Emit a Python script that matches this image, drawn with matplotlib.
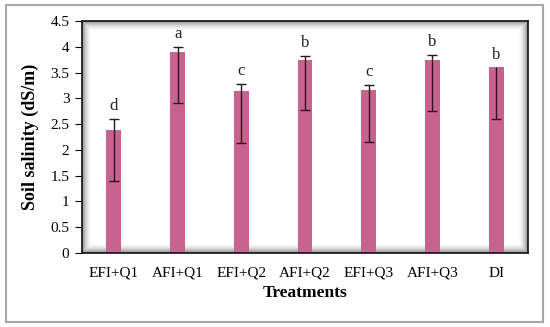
import numpy as np
import matplotlib
matplotlib.use("Agg")
import matplotlib.pyplot as plt
from matplotlib.patches import Rectangle

treatments = ["EFI+Q1", "AFI+Q1", "EFI+Q2", "AFI+Q2", "EFI+Q3", "AFI+Q3", "DI"]
salinity = [2.39, 3.90, 3.15, 3.75, 3.17, 3.74, 3.60]
err_upper = [0.21, 0.10, 0.13, 0.07, 0.09, 0.10, 0.00]
err_lower = [0.99, 0.99, 1.02, 0.98, 1.01, 0.99, 1.00]
letters = ["d", "a", "c", "b", "c", "b", "b"]
yticks = [0, 0.5, 1, 1.5, 2, 2.5, 3, 3.5, 4, 4.5]
ytick_labels = ["0", "0.5", "1", "1.5", "2", "2.5", "3", "3.5", "4", "4.5"]

plt.rcParams['font.family'] = ['Liberation Serif', 'DejaVu Serif']

fig = plt.figure(figsize=(5.5, 3.27), dpi=100)
fig.patch.set_facecolor("white")
# outer frame
fig.add_artist(Rectangle((6/550, 5/327), (543-6)/550, (322-5)/327, transform=fig.transFigure,
                         fill=False, edgecolor="#a8a8a8", linewidth=1.5))

ax = fig.add_axes([82/550, 1 - 253/327, (528-82)/550, (253-21)/327])

# inner shadow decoration
h, w = 232, 446
yy, xx = np.mgrid[0:h, 0:w]
d = np.minimum.reduce([xx, w - 1 - xx, yy, h - 1 - yy]).astype(float)
alpha = np.clip(1 - d / 9.0, 0, 1) ** 1.6 * 0.75
img = np.zeros((h, w, 4))
img[..., :3] = 0.45
img[..., 3] = alpha
ax.imshow(img, extent=[0, 1, 0, 1], transform=ax.transAxes, aspect='auto', zorder=0.5,
          interpolation='bilinear')

x = np.arange(len(treatments))
sal = np.array(salinity)
eu = np.array(err_upper)
el = np.array(err_lower)
ax.bar(x, sal, width=0.235, color="#C8628F", zorder=2)
ecol = "#2b1620"
# lower error with caps
ax.errorbar(x, sal, yerr=[el, np.zeros_like(el)], fmt='none', ecolor=ecol,
            elinewidth=1.0, capsize=0, zorder=3)
ax.plot(x, sal - el, linestyle='none', marker='_', markersize=7, markeredgewidth=1.0,
        color=ecol, zorder=3)
# upper error (caps only where there is an upper error)
m = eu > 0
ax.errorbar(x[m], sal[m], yerr=[np.zeros(m.sum()), eu[m]], fmt='none', ecolor=ecol,
            elinewidth=1.0, capsize=0, zorder=3)
ax.plot(x[m], (sal + eu)[m], linestyle='none', marker='_', markersize=7, markeredgewidth=1.0,
        color=ecol, zorder=3)
for xi, v, e, lt in zip(x, sal, eu, letters):
    ax.text(xi, v + e + 0.09, lt, ha='center', va='bottom', fontsize=12, color="#222222")

ax.set_xlim(-0.5, len(treatments) - 0.5)
ax.set_ylim(0, 4.5)
ax.set_yticks(yticks)
ax.set_yticklabels(ytick_labels)
ax.set_xticks(x)
ax.set_xticklabels(treatments)
ax.tick_params(axis='y', labelsize=11, length=5, width=0.8, direction='out', pad=4)
ax.tick_params(axis='x', labelsize=11, length=0, pad=10)
for s in ax.spines.values():
    s.set_linewidth(1.2)
    s.set_color("#111111")
ax.set_ylabel("Soil salinity (dS/m)", fontsize=13, fontweight='bold', labelpad=8)
ax.set_xlabel("Treatments", fontsize=12.5, fontweight='bold', labelpad=4)

fig.savefig("out.png", dpi=100)
